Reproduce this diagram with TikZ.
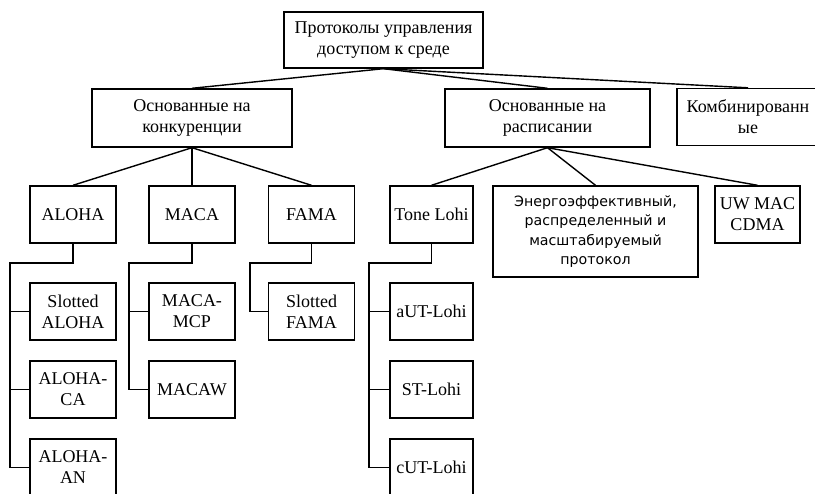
\documentclass[tikz,border=0pt]{standalone}
\usepackage{fontspec}
\setmainfont{Liberation Serif}
\newfontfamily\sansfont{DejaVu Sans}
\usetikzlibrary{positioning}

\tikzset{
  box/.style={draw, line width=1.4pt, align=center, inner sep=0pt,
    minimum width=86pt, minimum height=57pt,
    font=\fontsize{18}{21}\selectfont},
  link/.style={line width=1.4pt},
}

\begin{document}
\begin{tikzpicture}[x=1pt,y=-1pt]
  \useasboundingbox (0,0) rectangle (815,494);
  \clip (0,0) rectangle (815,494);

  % Root
  \node[box, minimum width=199pt, minimum height=56pt] (root) at (383.5,40) {Протоколы управления\\доступом к среде};

  % Second level
  \node[box, minimum width=200pt, minimum height=58pt] (konk) at (192,118) {Основанные на\\конкуренции};
  \node[box, minimum width=205pt, minimum height=58pt] (rasp) at (547.5,118) {Основанные на\\расписании};
  \node[box, minimum width=150pt, minimum height=57pt] (komb) at (752,117) {\hspace*{-8pt}Комбинированн\\\hspace*{-8pt}ые};

  \draw[link] (root.south) -- (konk.north);
  \draw[link] (root.south) -- (rasp.north);
  \draw[link] (root.south) -- ([xshift=-4pt]komb.north);

  % Third level
  \node[box] (aloha) at (73,214.5) {ALOHA};
  \node[box] (maca) at (192,214.5) {MACA};
  \node[box] (fama) at (311.5,214.5) {FAMA};
  \node[box, minimum width=83pt] (tone) at (431.5,214.5) {Tone Lohi};
  \node[box, minimum width=205pt, minimum height=91pt,
    font=\sansfont\fontsize{14.2}{19.5}\selectfont] (energy) at (595.5,231.5)
    {Энергоэффективный,\\распределенный и\\масштабируемый\\протокол};
  \node[box, minimum width=85pt] (uw) at (757.5,214.5) {UW MAC\\CDMA};

  \draw[link] (konk.south) -- (aloha.north);
  \draw[link] (konk.south) -- (maca.north);
  \draw[link] (konk.south) -- (fama.north);
  \draw[link] (rasp.south) -- (tone.north);
  \draw[link] (rasp.south) -- (energy.north);
  \draw[link] (rasp.south) -- (uw.north);

  % Fourth level
  \node[box] (sAloha) at (73,311.5) {Slotted\\ALOHA};
  \node[box] (caAloha) at (73,389.5) {ALOHA-\\CA};
  \node[box] (anAloha) at (73,467.5) {ALOHA-\\AN};
  \node[box] (mcp) at (192,311.5) {MACA-\\MCP};
  \node[box] (macaw) at (192,389.5) {MACAW};
  \node[box] (sFama) at (311.5,311.5) {Slotted\\FAMA};
  \node[box, minimum width=83pt] (aut) at (431.5,311.5) {aUT-Lohi};
  \node[box, minimum width=83pt] (st) at (431.5,389.5) {ST-Lohi};
  \node[box, minimum width=83pt] (cut) at (431.5,467.5) {cUT-Lohi};

  \coordinate (busA) at (10,263);
  \coordinate (busM) at (129,263);
  \coordinate (busF) at (250,263);
  \coordinate (busT) at (369,263);

  \draw[link] (aloha.south) |- (busA) |- (anAloha.west);
  \draw[link] (busA) |- (sAloha.west);
  \draw[link] (busA) |- (caAloha.west);
  \draw[link] (maca.south) |- (busM) |- (macaw.west);
  \draw[link] (busM) |- (mcp.west);
  \draw[link] (fama.south) |- (busF) |- (sFama.west);
  \draw[link] (tone.south) |- (busT) |- (cut.west);
  \draw[link] (busT) |- (aut.west);
  \draw[link] (busT) |- (st.west);
\end{tikzpicture}
\end{document}
